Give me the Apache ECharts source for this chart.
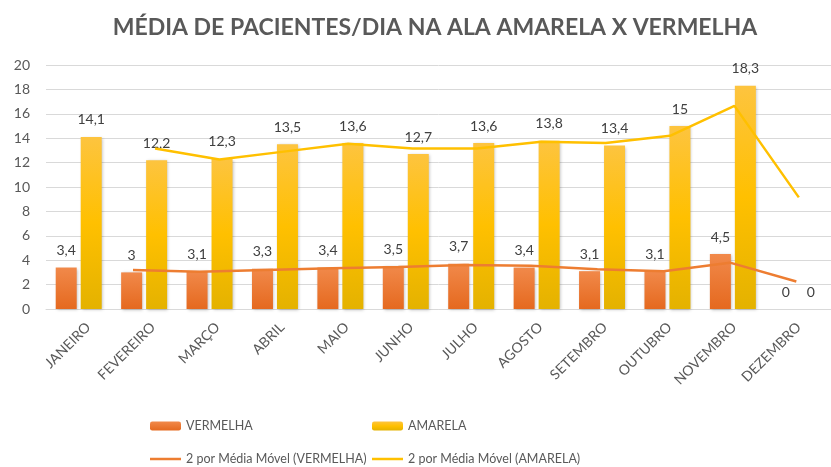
<!DOCTYPE html>
<html><head><meta charset="utf-8">
<script src="https://cdn.jsdelivr.net/npm/echarts@6/dist/echarts.min.js"></script>
<style>html,body{margin:0;padding:0;background:#fff}#c{width:831px;height:467px}</style>
</head><body><div id="c"></div>
<script>
const categories = ['JANEIRO','FEVEREIRO','MARÇO','ABRIL','MAIO','JUNHO','JULHO','AGOSTO','SETEMBRO','OUTUBRO','NOVEMBRO','DEZEMBRO'];
const vermelha = [3.4, 3, 3.1, 3.3, 3.4, 3.5, 3.7, 3.4, 3.1, 3.1, 4.5, 0];
const amarela = [14.1, 12.2, 12.3, 13.5, 13.6, 12.7, 13.6, 13.8, 13.4, 15, 18.3, 0];
const mmVermelha = [null, 3.2, 3.05, 3.2, 3.35, 3.45, 3.6, 3.55, 3.25, 3.1, 3.8, 2.25];
const mmAmarela = [null, 13.15, 12.25, 12.9, 13.55, 13.15, 13.15, 13.7, 13.6, 14.2, 16.65, 9.15];
const yTicks = {min: 0, max: 20, interval: 2};

const FONT = 'Lato';
const TXT = '#595959';
const fmt = p => String(p.value).replace('.', ',');
const gradV = new echarts.graphic.LinearGradient(0,0,0,1,[{offset:0,color:'#f1894a'},{offset:1,color:'#e5691f'}]);
const gradA = new echarts.graphic.LinearGradient(0,0,0,1,[{offset:0,color:'#fdc43f'},{offset:0.5,color:'#ffc000'},{offset:1,color:'#e4b200'}]);
const lineIcon = 'path://M0,0H31V2.5H0Z';

const chart = echarts.init(document.getElementById('c'));
const hiddenX = i => ({type:'category', gridIndex:i, data:categories, show:false, boundaryGap:true});
const hiddenY = i => ({type:'value', gridIndex:i, min:yTicks.min, max:yTicks.max, show:false});
const legendBase = {orient:'vertical', top:413, height:60, padding:[5,0,0,0], itemWidth:31, itemHeight:9, itemGap:17,
  symbolKeepAspect:true, textStyle:{color:TXT, fontSize:12.5, fontFamily:FONT, lineHeight:16}};
chart.setOption({
  animation:false,
  textStyle:{fontFamily:FONT},
  title:{text:'MÉDIA DE PACIENTES/DIA NA ALA AMARELA X VERMELHA', left:430, textAlign:'center', top:11,
    textStyle:{fontFamily:FONT, fontWeight:'bold', fontSize:23, color:TXT}},
  grid:[
    {left:46, right:-11, top:65, bottom:158},
    {left:33.5, right:1.5, top:65, bottom:158},
    {left:58.5, right:-23.5, top:65, bottom:158},
    {left:56, right:-21, top:65, bottom:158}
  ],
  xAxis:[
    {type:'category', gridIndex:0, data:categories, axisTick:{show:false},
     axisLine:{lineStyle:{color:'#d9d9d9', width:1}}, axisLabel:{show:false}},
    hiddenX(1), hiddenX(2),
    {type:'category', gridIndex:3, data:categories, axisTick:{show:false}, axisLine:{show:false},
     axisLabel:{rotate:45, color:TXT, fontSize:14, fontFamily:FONT, margin:16, interval:0}}
  ],
  yAxis:[
    {type:'value', gridIndex:0, min:yTicks.min, max:yTicks.max, interval:yTicks.interval,
     axisLine:{show:false}, axisTick:{show:false},
     axisLabel:{color:TXT, fontSize:14, fontFamily:FONT, margin:16},
     splitLine:{lineStyle:{color:'#d9d9d9', width:1}}},
    hiddenY(1), hiddenY(2), hiddenY(3)
  ],
  legend:[
    Object.assign({}, legendBase, {left:150, data:['VERMELHA', {name:'2 por Média Móvel (VERMELHA)', icon:lineIcon}]}),
    Object.assign({}, legendBase, {left:372, data:['AMARELA', {name:'2 por Média Móvel (AMARELA)', icon:lineIcon}]})
  ],
  series:[
    {name:'VERMELHA', type:'bar', data:vermelha, barWidth:21, barGap:'19%',
     itemStyle:{color:gradV, shadowColor:'rgba(0,0,0,0.25)', shadowBlur:3, shadowOffsetX:1, shadowOffsetY:1},
     label:{show:true, position:'top', distance:10, formatter:fmt, color:'#404040', fontSize:14, fontFamily:FONT}},
    {name:'AMARELA', type:'bar', data:amarela, barWidth:21,
     itemStyle:{color:gradA, shadowColor:'rgba(0,0,0,0.25)', shadowBlur:3, shadowOffsetX:1, shadowOffsetY:1},
     label:{show:true, position:'top', distance:10, formatter:fmt, color:'#404040', fontSize:14, fontFamily:FONT}},
    {name:'2 por Média Móvel (VERMELHA)', type:'line', xAxisIndex:1, yAxisIndex:1, data:mmVermelha,
     symbol:'none', color:'#ed7d31', lineStyle:{color:'#ed7d31', width:2.5}, z:5},
    {name:'2 por Média Móvel (AMARELA)', type:'line', xAxisIndex:2, yAxisIndex:2, data:mmAmarela,
     symbol:'none', color:'#ffc000', lineStyle:{color:'#ffc000', width:2.5}, z:5}
  ]
});
</script></body></html>
